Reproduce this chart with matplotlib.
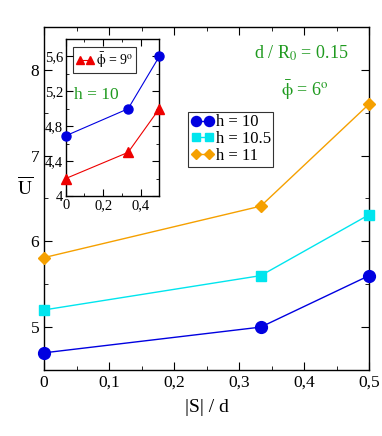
import numpy as np
import matplotlib
matplotlib.use('Agg')
import matplotlib.pyplot as plt
from matplotlib.ticker import MultipleLocator, FuncFormatter

plt.rcParams['font.family'] = ['Liberation Serif', 'DejaVu Serif']
plt.rcParams['mathtext.fontset'] = 'stix'

# main panel data
s_d = [0, 1/3, 0.5]
u_h10 = [4.70, 5.00, 5.60]
u_h105 = [5.20, 5.60, 6.31]
u_h11 = [5.81, 6.41, 7.60]

# inset data (h = 10)
ins_phi6 = [4.69, 5.00, 5.60]
ins_phi9 = [4.20, 4.50, 5.00]

green = '#1f9a1f'

def comma(v, pos):
    s = ('%.1f' % v).rstrip('0').rstrip('.')
    return s.replace('.', ',')

def style_ax(ax, fs):
    ax.tick_params(which='both', direction='in', top=True, right=True, labelsize=fs)
    ax.tick_params(which='major', length=6)
    ax.tick_params(which='minor', length=3)
    for sp in ax.spines.values():
        sp.set_linewidth(1.0)

fig = plt.figure(figsize=(3.82, 4.36), dpi=100)
ax = fig.add_axes([0.1152, 0.1514, 0.851, 0.787])

ax.plot(s_d, u_h10, '-o', color='#0000e0', ms=8.5, lw=1.0, label='h = 10', clip_on=False, zorder=5)
ax.plot(s_d, u_h105, '-s', color='#00e5ee', ms=7, lw=1.0, label='h = 10.5', clip_on=False, zorder=5)
ax.plot(s_d, u_h11, '-D', color='#f5a000', ms=6.5, lw=1.0, label='h = 11', clip_on=False, zorder=5)

ax.set_xlim(0, 0.5)
ax.set_ylim(4.5, 8.5)
ax.xaxis.set_major_locator(MultipleLocator(0.1))
ax.xaxis.set_minor_locator(MultipleLocator(0.05))
ax.yaxis.set_major_locator(MultipleLocator(1))
ax.yaxis.set_minor_locator(MultipleLocator(0.5))
ax.xaxis.set_major_formatter(FuncFormatter(comma))
style_ax(ax, 12.5)
ax.set_xlabel('|S| / d', fontsize=14)
ax.xaxis.set_label_coords(0.5, -0.085)
ax.set_ylabel(r'$\overline{\rm U}$', fontsize=14, rotation=0)
ax.yaxis.set_label_coords(-0.058, 0.5)

leg = ax.legend(loc='upper left', bbox_to_anchor=(0.443, 0.752), fontsize=12,
                frameon=True, fancybox=False, edgecolor='black', borderpad=0.15,
                handlelength=1.4, handletextpad=0.1, labelspacing=0.05, borderaxespad=0,
                numpoints=2, markerscale=0.85)
leg.get_frame().set_linewidth(0.8)

ax.text(0.79, 0.924, r'd / R$_0$ = 0.15', transform=ax.transAxes, color=green,
        fontsize=13, ha='center', va='center')
ax.text(0.803, 0.816, r'$\bar{\mathrm{\phi}}$ = 6$^{\rm o}$', transform=ax.transAxes, color=green,
        fontsize=13, ha='center', va='center')

# inset
ins = fig.add_axes([0.172, 0.5505, 0.245, 0.3601])
ins.plot(s_d, ins_phi6, '-o', color='#0000e0', ms=6.5, lw=0.8, clip_on=False, zorder=5)
ins.plot(s_d, ins_phi9, '-^', color='#ee0000', ms=6.5, lw=0.8, clip_on=False, zorder=5,
         label=r'$\bar{\mathrm{\phi}}$ = 9$^{\rm o}$')
ins.set_xlim(0, 0.5)
ins.set_ylim(4.0, 5.8)
ins.xaxis.set_major_locator(MultipleLocator(0.2))
ins.xaxis.set_minor_locator(MultipleLocator(0.1))
ins.yaxis.set_major_locator(MultipleLocator(0.4))
ins.yaxis.set_minor_locator(MultipleLocator(0.2))
ins.xaxis.set_major_formatter(FuncFormatter(comma))
ins.yaxis.set_major_formatter(FuncFormatter(comma))
style_ax(ins, 10.5)
ins.tick_params(which='major', length=5, pad=2)
ins.tick_params(which='minor', length=2.5)
ileg = ins.legend(loc='upper left', bbox_to_anchor=(0.075, 0.95), fontsize=10,
                  frameon=True, fancybox=False, edgecolor='black', borderpad=0.25,
                  handlelength=1.3, handletextpad=0.1, borderaxespad=0, numpoints=2,
                  markerscale=0.85)
ileg.get_frame().set_linewidth(0.8)
ins.text(0.33, 0.645, 'h = 10', transform=ins.transAxes, color=green,
         fontsize=12.5, ha='center', va='center')

fig.savefig('out.png', dpi=100)
